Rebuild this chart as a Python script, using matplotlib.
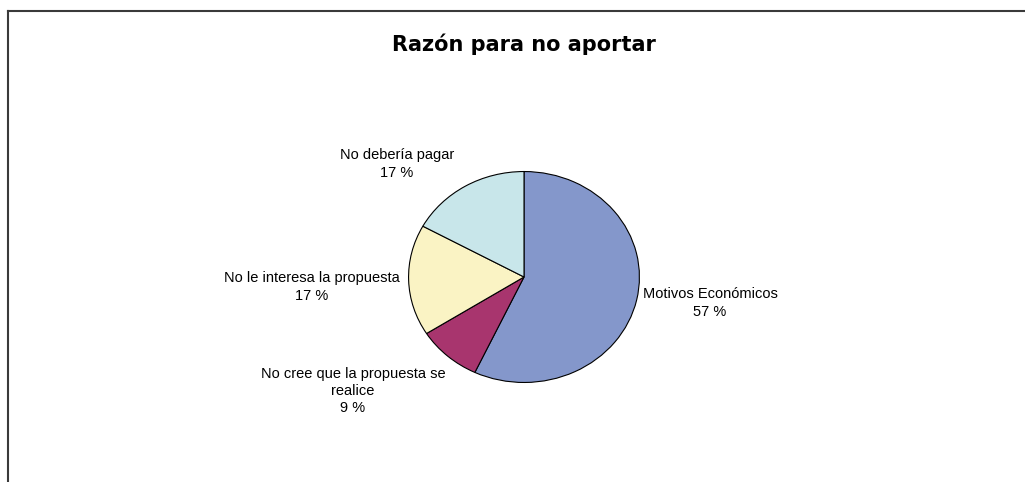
import matplotlib
matplotlib.use("Agg")
import matplotlib.pyplot as plt
from matplotlib.lines import Line2D

# Data
title = "Razón para no aportar"
categories = ["Motivos Económicos", "No cree que la propuesta se\nrealice",
              "No le interesa la propuesta", "No debería pagar"]
values = [57, 9, 17, 17]
colors = ["#8497CB", "#A8356E", "#FAF3C4", "#C8E6EA"]

W, H = 1025, 482
fig = plt.figure(figsize=(W / 100, H / 100), dpi=100)
fig.patch.set_facecolor("white")

# Frame lines (top and left)
fig.add_artist(Line2D([8 / W, 1.0], [1 - 11 / H, 1 - 11 / H], color="#3a3a3a", lw=1.5))
fig.add_artist(Line2D([8 / W, 8 / W], [0, 1 - 11 / H], color="#3a3a3a", lw=1.5))

# Title
fig.text(524 / W, 1 - 44 / H, title, ha="center", va="center",
         fontsize=15, fontweight="bold", family="DejaVu Sans")

# Pie (slightly elliptical like the reference)
cx, cy, rx, ry = 524, 277, 116, 106
ax = fig.add_axes([(cx - rx) / W, 1 - (cy + ry) / H, 2 * rx / W, 2 * ry / H])
ax.pie(values, colors=colors, startangle=90, counterclock=False,
       wedgeprops=dict(edgecolor="black", linewidth=0.8))
ax.set_aspect("auto")
ax.set_xlim(-1.005, 1.005)
ax.set_ylim(-1.005, 1.005)
ax.axis("off")

# Labels
label_pos = [(710, 303), (353, 391), (312, 287), (397, 164)]
for cat, val, (px, py) in zip(categories, values, label_pos):
    fig.text(px / W, 1 - py / H, f"{cat}\n{val} %", ha="center", va="center",
             multialignment="center", fontsize=10.5, family="Liberation Sans",
             linespacing=1.28)

fig.savefig("out.png", dpi=100, facecolor="white")
